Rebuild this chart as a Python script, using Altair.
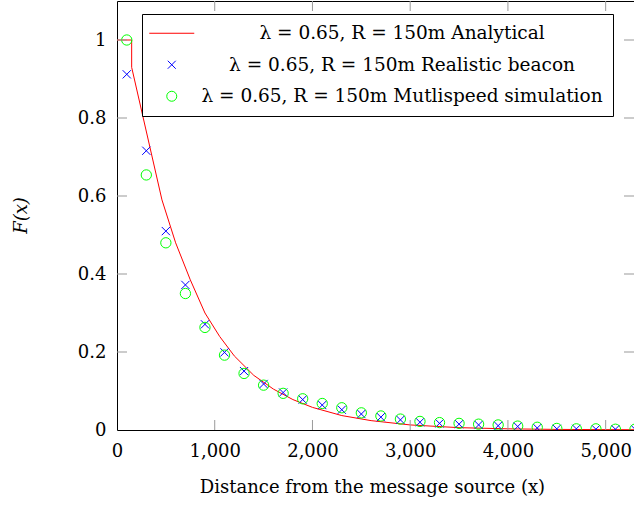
import altair as alt
import pandas as pd

FONT = "DejaVu Serif"
FS = 18
TICK = "#999999"

SERIES = ["λ = 0.65, R = 150m Analytical",
          "λ = 0.65, R = 150m Realistic beacon",
          "λ = 0.65, R = 150m Mutlispeed simulation"]
COLORS = ["#ff0000", "#0000ff", "#00ff00"]
SHAPES = ["M-4.5,0L4.5,0", "M-0.8,-0.8L0.8,0.8M-0.8,0.8L0.8,-0.8", "circle"]

# analytical curve
curve_x = [0, 150, 150, 460, 600, 750, 900, 1050, 1200, 1400, 1600, 1800,
           2000, 2300, 2600, 3000, 3500, 4000, 4500, 5000, 5500]
curve_y = [1.0, 1.0, 0.93, 0.59, 0.48, 0.385, 0.30, 0.24, 0.19, 0.14, 0.105,
           0.078, 0.058, 0.037, 0.024, 0.013, 0.006, 0.003, 0.0015, 0.001, 0.0005]

# simulation points
sim_x = [100, 300, 500, 700, 900, 1100, 1300, 1500, 1700, 1900, 2100, 2300,
         2500, 2700, 2900, 3100, 3300, 3500, 3700, 3900, 4100, 4300, 4500,
         4700, 4900, 5100, 5300]
beacon_y = [0.912, 0.716, 0.510, 0.372, 0.271, 0.199, 0.151, 0.118, 0.096,
            0.078, 0.064, 0.052, 0.041, 0.033, 0.026, 0.020, 0.017, 0.015,
            0.013, 0.011, 0.009, 0.005, 0.003, 0.003, 0.002, 0.002, 0.002]
multi_y = [1.0, 0.654, 0.480, 0.350, 0.263, 0.192, 0.145, 0.115, 0.094,
           0.080, 0.068, 0.057, 0.044, 0.036, 0.028, 0.022, 0.019, 0.017,
           0.015, 0.013, 0.010, 0.007, 0.004, 0.003, 0.003, 0.002, 0.002]

x_ticks = [0, 1000, 2000, 3000, 4000, 5000]
y_ticks = [0, 0.2, 0.4, 0.6, 0.8, 1.0]

X_TITLE = "Distance from the message source (x)"
Y_TITLE = "F(x)"

W, H = 517, 429

df_line = pd.DataFrame({"idx": list(range(len(curve_x))), "x": curve_x,
                        "y": curve_y})
df_pts = pd.DataFrame({
    "x": sim_x + sim_x,
    "y": beacon_y + multi_y,
    "series": [SERIES[1]] * len(sim_x) + [SERIES[2]] * len(sim_x),
})
df_xt = pd.DataFrame({"v": x_ticks[1:]})
df_yt = pd.DataFrame({"v": y_ticks[1:]})

xs = alt.Scale(domain=[0, 5290], nice=False, zero=False)
ys = alt.Scale(domain=[0, 1.1], nice=False, zero=False)
color_scale = alt.Scale(domain=SERIES, range=COLORS)
shape_scale = alt.Scale(domain=SERIES, range=SHAPES)

legend = alt.Legend(
    title=None, orient="none", legendX=25, legendY=13, direction="vertical",
    strokeColor="#000000", fillColor="#ffffff", padding=10,
    labelFont=FONT, labelFontSize=18.5, labelColor="#000000",
    labelAlign="center", labelOffset=221, labelLimit=700,
    symbolOffset=10.5, symbolSize=100, symbolStrokeWidth=1, rowPadding=12.5,
)

bottom_axis = alt.Axis(
    orient="bottom", values=x_ticks, labelExpr="format(datum.value, ',')",
    labelFlush=False, labelPadding=12, ticks=False, grid=False, domain=True,
    domainColor="#000000", domainWidth=1, labelOverlap=False,
    title=X_TITLE, titleX=255, titleY=62, titleBaseline="alphabetic",
    titleFontWeight="normal",
)
top_axis = alt.Axis(
    orient="top", labels=False, ticks=False, grid=False, domain=True,
    domainColor="#000000", domainWidth=1, title=None,
)
left_axis = alt.Axis(
    orient="left", values=y_ticks, labelExpr="format(datum.value, '~g')",
    labelPadding=11, ticks=False, grid=False, domain=True,
    domainColor="#000000", domainWidth=1, labelOverlap=False,
    title=Y_TITLE, titleX=-96, titleY=214, titleBaseline="middle",
    titleFontStyle="italic", titleFontWeight="normal",
)

line = alt.Chart(df_line).mark_line(strokeWidth=1, clip=True, color=COLORS[0]).encode(
    x=alt.X("x:Q", scale=xs, axis=bottom_axis),
    y=alt.Y("y:Q", scale=ys, axis=left_axis),
    order=alt.Order("idx:Q"),
)

pts = alt.Chart(df_pts).mark_point(filled=False, size=106, strokeWidth=1,
                                   opacity=1, clip=True).encode(
    x=alt.X("x:Q", scale=xs, axis=top_axis),
    y=alt.Y("y:Q", scale=ys, axis=left_axis),
    color=alt.Color("series:N", scale=color_scale, legend=legend),
    shape=alt.Shape("series:N", scale=shape_scale, legend=legend),
)

bottom_ticks = alt.Chart(df_xt).mark_rule(color=TICK, strokeWidth=1).encode(
    x=alt.X("v:Q", scale=xs, axis=None), y=alt.value(H), y2=alt.value(H - 10))
top_ticks = alt.Chart(df_xt).mark_rule(color=TICK, strokeWidth=1).encode(
    x=alt.X("v:Q", scale=xs, axis=None), y=alt.value(0), y2=alt.value(10))
left_ticks = alt.Chart(df_yt).mark_rule(color=TICK, strokeWidth=1).encode(
    y=alt.Y("v:Q", scale=ys, axis=left_axis), x=alt.value(0), x2=alt.value(10))
right_ticks = alt.Chart(df_yt).mark_rule(color=TICK, strokeWidth=1).encode(
    y=alt.Y("v:Q", scale=ys, axis=left_axis), x=alt.value(W - 10), x2=alt.value(W))

chart = alt.layer(line, pts, bottom_ticks, top_ticks, left_ticks, right_ticks).resolve_axis(
    x="independent"
).properties(
    width=W, height=H,
    autosize=alt.AutoSizeParams(type="none"),
    padding={"left": 117, "top": 1, "right": 0, "bottom": 81},
    background="#ffffff",
).configure_view(strokeWidth=0).configure_axis(
    labelFont=FONT, labelFontSize=FS, labelColor="#000000",
    titleFont=FONT, titleFontSize=FS, titleColor="#000000",
)

chart.save("out.html", embed_options={"renderer": "svg", "actions": False})
